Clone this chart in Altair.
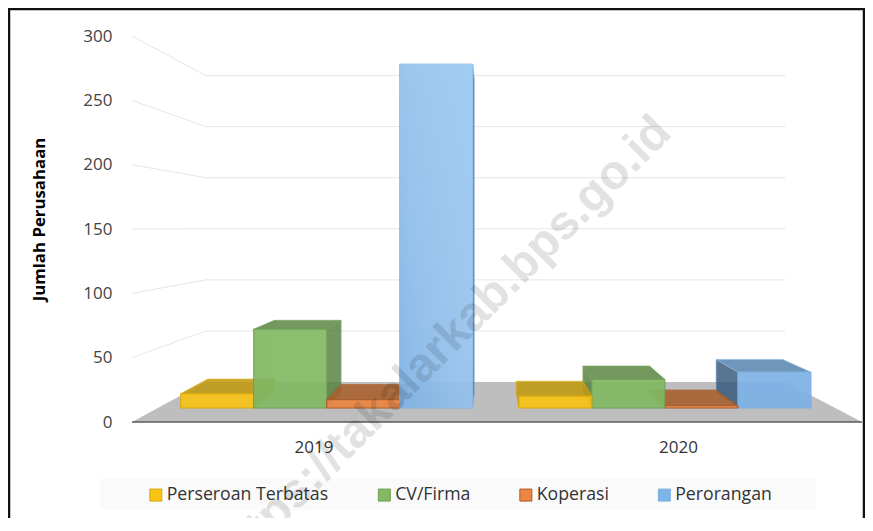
import altair as alt
import pandas as pd

# ---- chart values
years = ["2019", "2020"]
series = ["Perseroan Terbatas", "CV/Firma", "Koperasi", "Perorangan"]
perseroan = [12, 10]
cv_firma = [66, 24]
koperasi = [7, 2]
perorangan = [288, 30]
y_ticks = [0, 50, 100, 150, 200, 250, 300]
grid_values = [50, 100, 150, 200, 250, 300]

# ---- styling per series
front_cols = ["#f7c414", "#82b962", "#ee8643", "#7db3e8"]
edge_cols = ["#d9a90c", "#6f9f52", "#a85a28", "#7fb0de"]
top_cols = ["#c29a10", "#5f8a48", "#a9602d", "#5c89b3"]
side_cols = ["#b08c14", "#56803f", "#98582c", "#36587c"]

# ---- perspective geometry (chart space: x in screen px, y in data units)
PX0, PX1 = 8, 865
PY0, PY1 = 8, 518
Y_ZERO, PX_PER_UNIT = 422, 386 / 300
def val_at(py):
    return (Y_ZERO - py) / PX_PER_UNIT
VP_X, VP_V = 490, val_at(228)
D_FRONT, D_BACK, D_WALL = 0.072, 0.154, 0.206
def px(x, d):
    return x + d * (VP_X - x)
def pv(v, d):
    return v + d * (VP_V - v)

centers = [314, 678.5]
bar_w = 78.7
floor_l, floor_r = 132, 862

sx = alt.Scale(domain=[PX0, PX1], range=[0, PX1 - PX0], nice=False, zero=False)
sy = alt.Scale(domain=[val_at(PY1), val_at(PY0)], range=[PY1 - PY0, 0], nice=False, zero=False)
y_axis = alt.Axis(
    values=y_ticks, offset=-104, grid=False, domain=False, ticks=False,
    labelPadding=0, labelFont="Open Sans", labelFontSize=17, labelColor="#444444",
    title="Jumlah Perusahaan", titleFont="Open Sans", titleFontSize=16.8,
    titleFontWeight="bold", titleColor="#000000", titleX=-64, titleY=211,
)
X = alt.X("x:Q", scale=sx, axis=None)
X2 = alt.X2("x2:Q")
Y = alt.Y("y:Q", scale=sy, axis=y_axis, title="Jumlah Perusahaan")
Y2 = alt.Y2("y2:Q")

layers = []

# legend band
layers.append(
    alt.Chart(pd.DataFrame([{"x": 100, "x2": 816, "y": val_at(479), "y2": val_at(510)}]))
    .mark_rect(color="#fafafa").encode(x=X, x2=X2, y=Y, y2=Y2)
)

# gridlines
rows = []
for v in grid_values:
    rows += [
        {"g": v, "o": 0, "x": px(floor_l, 0), "y": pv(v, 0)},
        {"g": v, "o": 1, "x": px(floor_l, D_WALL), "y": pv(v, D_WALL)},
        {"g": v, "o": 2, "x": px(floor_r, D_WALL), "y": pv(v, D_WALL)},
    ]
layers.append(
    alt.Chart(pd.DataFrame(rows)).mark_line(color="#e6e6e6", strokeWidth=1).encode(
        x=X, y=Y, detail="g:N", order="o:Q",
    )
)

# floor
layers.append(
    alt.Chart(pd.DataFrame([
        {"y": pv(0, 0), "x": px(floor_l, 0), "x2": px(floor_r, 0)},
        {"y": pv(0, D_WALL), "x": px(floor_l, D_WALL), "x2": px(floor_r, D_WALL)},
    ])).mark_area(orient="horizontal", color="#bebebe").encode(x=X, x2=X2, y=Y)
)
layers.append(
    alt.Chart(pd.DataFrame([{"x": floor_l, "x2": floor_r, "y": 0}]))
    .mark_rule(color="#5a5a5a", strokeWidth=1.6).encode(x=X, x2=X2, y=Y)
)

# bars: those farthest from the vanishing point are drawn first
all_values = [perseroan, cv_firma, koperasi, perorangan]
color_scale = alt.Scale(domain=series, range=front_cols)
stroke_scale = alt.Scale(domain=series, range=edge_cols)
legend = alt.Legend(
    orient="none", legendX=139, legendY=478, direction="horizontal", columns=4,
    gridAlign="each", columnPadding=46.5, title=None, symbolType="square", symbolSize=144,
    symbolStrokeWidth=1, symbolOpacity=1, labelFont="Open Sans", labelFontSize=17.7,
    labelColor="#333333", labelOffset=2, labelLimit=300, padding=0,
)
gradient = alt.Gradient(
    gradient="linear", x1=0, y1=1, x2=1, y2=0,
    stops=[alt.GradientStop(color="rgba(255,255,255,0)", offset=0),
           alt.GradientStop(color="rgba(190,230,255,0.45)", offset=1)],
)
tallest = max(max(s) for s in all_values)
for yi, (year, cx) in enumerate(zip(years, centers)):
    order = [0, 1, 2, 3] if yi == 0 else [3, 2, 1, 0]
    for i in order:
        name, v = series[i], all_values[i][yi]
        xl = cx + (i - 2) * bar_w
        xr = xl + bar_w
        xf_l, xf_r, xb_l, xb_r = px(xl, D_FRONT), px(xr, D_FRONT), px(xl, D_BACK), px(xr, D_BACK)
        vf, vb, zf, zb = pv(v, D_FRONT), pv(v, D_BACK), pv(0, D_FRONT), pv(0, D_BACK)
        back = pd.DataFrame([{"x": xb_l, "x2": xb_r, "y": vb, "y2": zb}])
        bottom = pd.DataFrame([{"y": zf, "x": xf_l, "x2": xf_r}, {"y": zb, "x": xb_l, "x2": xb_r}])
        top = pd.DataFrame([{"y": vf, "x": xf_l, "x2": xf_r}, {"y": vb, "x": xb_l, "x2": xb_r}])
        left = pd.DataFrame([{"x": xf_l, "y": vf, "y2": zf}, {"x": xb_l, "y": vb, "y2": zb}])
        right = pd.DataFrame([{"x": xf_r, "y": vf, "y2": zf}, {"x": xb_r, "y": vb, "y2": zb}])
        # the side turned towards the viewer is solid, the far one shows through
        near, far = (right, left) if xr < VP_X else (left, right)
        top_op = 0.85 if vb > vf else 0.12
        layers.append(alt.Chart(back).mark_rect(color=side_cols[i], opacity=0.12).encode(x=X, x2=X2, y=Y, y2=Y2))
        layers.append(alt.Chart(bottom).mark_area(orient="horizontal", color=side_cols[i], opacity=0.2, stroke=edge_cols[i], strokeWidth=0.6).encode(x=X, x2=X2, y=Y))
        layers.append(alt.Chart(far).mark_area(color=side_cols[i], opacity=0.2, stroke=edge_cols[i], strokeWidth=0.6).encode(x=X, y=Y, y2=Y2))
        layers.append(alt.Chart(near).mark_area(color=side_cols[i], opacity=0.8, stroke=edge_cols[i], strokeWidth=0.7).encode(x=X, y=Y, y2=Y2))
        layers.append(alt.Chart(top).mark_area(orient="horizontal", color=top_cols[i], opacity=top_op, stroke=edge_cols[i], strokeWidth=0.7 if vb > vf else 0).encode(x=X, x2=X2, y=Y))
        front = pd.DataFrame([{"series": name, "x": xf_l, "x2": xf_r, "y": vf, "y2": zf}])
        layers.append(
            alt.Chart(front).mark_rect(opacity=0.9, strokeWidth=1).encode(
                x=X, x2=X2, y=Y, y2=Y2,
                color=alt.Color("series:N", scale=color_scale, legend=legend),
                stroke=alt.Stroke("series:N", scale=stroke_scale, legend=legend),
            )
        )
        if v == tallest:
            layers.append(alt.Chart(front).mark_rect(color=gradient).encode(x=X, x2=X2, y=Y, y2=Y2))

# category labels
layers.append(
    alt.Chart(pd.DataFrame({"x": centers, "y": [val_at(448)] * 2, "t": years}))
    .mark_text(font="Open Sans", fontSize=17, color="#333333", baseline="middle")
    .encode(x=X, y=Y, text="t:N")
)

# watermark
layers.append(
    alt.Chart(pd.DataFrame({"x": [232], "y": [val_at(576)], "t": ["https://takalarkab.bps.go.id"]}))
    .mark_text(font="Liberation Sans", fontWeight="bold", fontSize=48, color="#000000", opacity=0.11, angle=315, align="left", baseline="alphabetic")
    .encode(x=X, y=Y, text="t:N")
)

# frame
layers.append(alt.Chart(pd.DataFrame({"x": [PX0 + 1, PX1 - 1]})).mark_rule(color="#111111", strokeWidth=2.5).encode(x=X))
layers.append(alt.Chart(pd.DataFrame({"y": [val_at(PY0 + 1)]})).mark_rule(color="#111111", strokeWidth=2.5).encode(y=Y))

chart = alt.layer(*layers).properties(
    width=PX1 - PX0, height=PY1 - PY0, padding=0, autosize=alt.AutoSizeParams(type="none"), background="#ffffff"
).configure_view(stroke=None)

chart.save("out.html", embed_options={"renderer": "svg", "actions": False})
